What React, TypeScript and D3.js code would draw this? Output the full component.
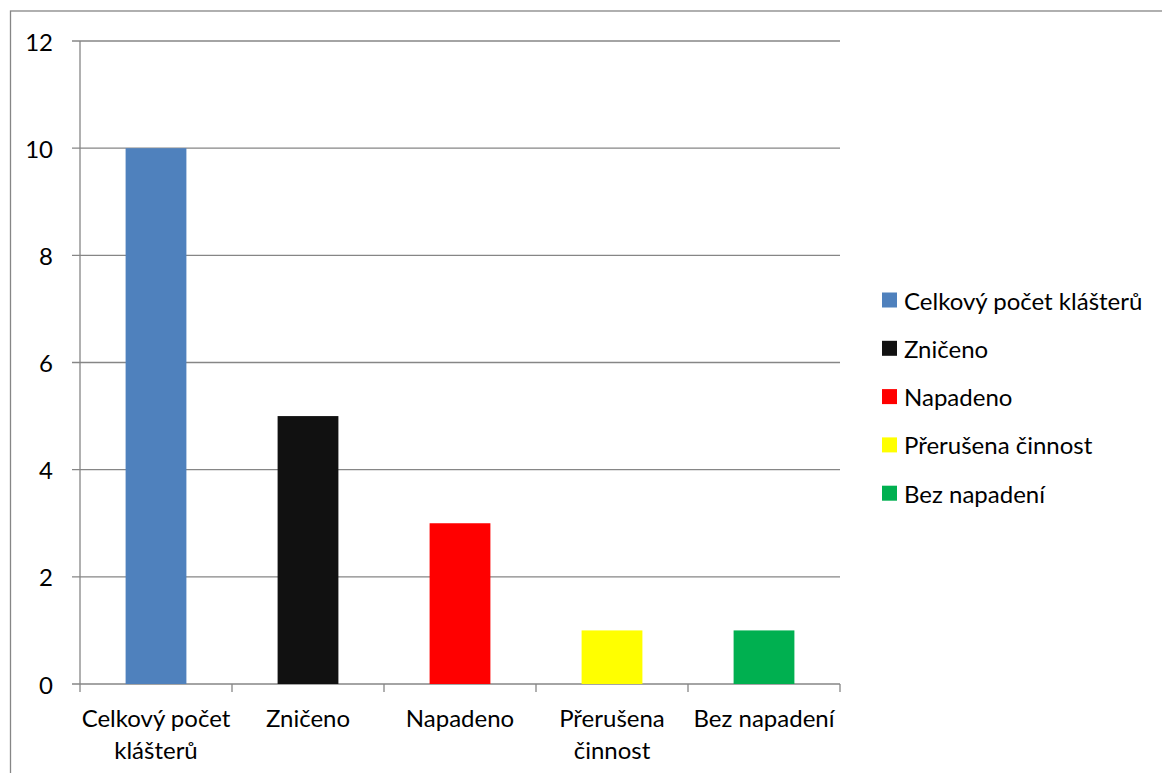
import React from "react";
import * as d3 from "d3";

const categories = ["Celkový počet klášterů", "Zničeno", "Napadeno", "Přerušena činnost", "Bez napadení"];
const categoryLabelLines = [["Celkový počet", "klášterů"], ["Zničeno"], ["Napadeno"], ["Přerušena", "činnost"], ["Bez napadení"]];
const values = [10, 5, 3, 1, 1];
const colors = ["#4F81BD", "#111111", "#FF0000", "#FFFF00", "#00B050"];
const yTicks = [0, 2, 4, 6, 8, 10, 12];

const W = 1162;
const H = 773;
const FONT = "Lato, 'Open Sans', sans-serif";

export default function App() {
  const left = 80, right = 840, top = 41, bottom = 684;
  const x = d3.scaleBand<string>().domain(categories).range([left, right]).paddingInner(0).paddingOuter(0);
  const y = d3.scaleLinear().domain([0, 12]).range([bottom, top]);
  const bw = x.bandwidth() * 0.4;
  const grid = "#868686";
  const boundaries = categories.map((c) => x(c)!).concat([right]);

  return (
    <svg width={W} height={H} style={{ position: "absolute", left: 0, top: 0, background: "#fff" }} fontFamily={FONT}>
      <rect x={10.5} y={11} width={W + 20} height={H + 20} fill="#fff" stroke={grid} strokeWidth={1.3} />
      {yTicks.map((t) => (
        <g key={t}>
          <line x1={left - 8} x2={right} y1={y(t)} y2={y(t)} stroke={grid} strokeWidth={1.3} />
          <text x={53} y={y(t)} textAnchor="end" dominantBaseline="central" fontSize={24} fill="#000">{t}</text>
        </g>
      ))}
      <line x1={left} x2={left} y1={top} y2={bottom} stroke={grid} strokeWidth={1.3} />
      {boundaries.map((b, i) => (
        <line key={i} x1={b} x2={b} y1={bottom} y2={bottom + 8} stroke={grid} strokeWidth={1.3} />
      ))}
      {categories.map((c, i) => (
        <rect key={c} x={x(c)! + (x.bandwidth() - bw) / 2} y={y(values[i])} width={bw} height={y(0) - y(values[i])} fill={colors[i]} />
      ))}
      {categories.map((c, i) => (
        <text key={c} x={x(c)! + x.bandwidth() / 2} textAnchor="middle" fontSize={24} fill="#000">
          {categoryLabelLines[i].map((l, j) => (
            <tspan key={j} x={x(c)! + x.bandwidth() / 2} y={727 + j * 32}>{l}</tspan>
          ))}
        </text>
      ))}
      {categories.map((c, i) => (
        <g key={c} transform={`translate(882, ${300 + i * 48.3})`}>
          <rect x={0} y={-7.5} width={15} height={15} fill={colors[i]} />
          <text x={22} y={0} dominantBaseline="central" fontSize={24} fill="#000">{c}</text>
        </g>
      ))}
    </svg>
  );
}
